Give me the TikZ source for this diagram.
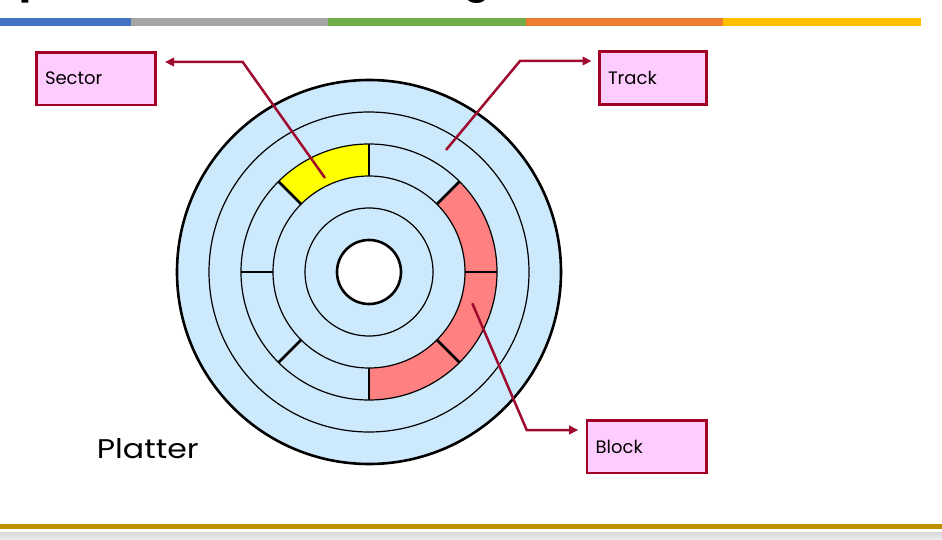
\documentclass[tikz,border=0pt]{standalone}
\usepackage{fontspec}
\setmainfont{Poppins}
\usetikzlibrary{arrows.meta,calc}
\definecolor{disk}{RGB}{205,233,252}
\definecolor{sectyel}{RGB}{255,255,0}
\definecolor{blockred}{RGB}{255,128,128}
\definecolor{boxfill}{RGB}{255,204,255}
\definecolor{boxline}{RGB}{163,0,38}
\definecolor{arrowred}{RGB}{158,11,47}
\definecolor{barblue}{RGB}{68,114,196}
\definecolor{bargray}{RGB}{165,165,165}
\definecolor{bargreen}{RGB}{112,173,71}
\definecolor{barorange}{RGB}{237,125,49}
\definecolor{baryellow}{RGB}{255,192,0}
\definecolor{gold}{RGB}{191,143,0}
\begin{document}
\begin{tikzpicture}[x=1pt,y=1pt,
  lbox/.style={draw=boxline, line width=2.6pt, fill=boxfill, rectangle,
    minimum height=52.9pt, inner xsep=8.7pt, inner ysep=0pt, align=left,
    font=\fontsize{18}{20}\selectfont},
  arr/.style={draw=arrowred, line width=2.5pt, -{Triangle[length=9pt,width=8.5pt]}},
  ring/.style={line width=1.2pt},
  spoke/.style={line width=2.6pt},
]
\useasboundingbox (0,0) rectangle (942,-540);
% top colour bar
\fill[barblue]   (0,-18) rectangle (131,-25.7);
\fill[bargray]   (131,-18) rectangle (328,-25.7);
\fill[bargreen]  (328,-18) rectangle (525.5,-25.7);
\fill[barorange] (525.5,-18) rectangle (722.5,-25.7);
\fill[baryellow] (722.5,-18) rectangle (920.7,-25.7);
% clipped title descenders
\node[font=\bfseries\fontsize{40}{40}\selectfont, anchor=base west, inner sep=0pt] (tp) at (19,7) {p};
\node[font=\bfseries\fontsize{40}{40}\selectfont, anchor=base west, inner sep=0pt] (tg) at (463,7) {g};
% bottom lines
\fill[gold] (0,-524) rectangle (942,-529);
\shade[top color=black!15, bottom color=black!7] (0,-532) rectangle (942,-540);
% platter
\begin{scope}[shift={(369,-272)}]
  \fill[disk] (0,0) circle[radius=192];
  \fill[sectyel] (90:128) arc[start angle=90,end angle=135,radius=128]
     -- (135:96) arc[start angle=135,end angle=90,radius=96] -- cycle;
  \fill[blockred] (45:128) arc[start angle=45,end angle=-90,radius=128]
     -- (-90:96) arc[start angle=-90,end angle=45,radius=96] -- cycle;
  \draw[ring] (0,0) circle[radius=160];
  \draw[ring] (0,0) circle[radius=128];
  \draw[ring] (0,0) circle[radius=96];
  \draw[ring] (0,0) circle[radius=64];
  \foreach \a in {0,45,90,135,180,225,270,315}
    \draw[spoke] (\a:96) -- (\a:128);
  \draw[line width=2.6pt] (0,0) circle[radius=192];
  \draw[line width=2.6pt, fill=white] (0,0) circle[radius=32];
\end{scope}
% labels
\node[lbox, text width=102pt] (sector) at (96,-78.7) {Sector};
\node[lbox, text width=89.6pt] (track) at (652.8,-77.9) {Track};
\node[lbox, text width=102pt] (block) at (646.7,-446.7) {Block};
\node[anchor=base west, inner sep=0pt, font=\fontsize{27}{30}\selectfont] (platter) at (96.7,-458) {\scalebox{1.17}[1]{Platter}};
% connectors
\coordinate (secP) at (325,-178);
\coordinate (secK) at (242.7,-62);
\coordinate (trkP) at (446,-150);
\coordinate (trkK) at (520,-61);
\coordinate (blkP) at (472.3,-303.3);
\coordinate (blkK) at (526.7,-430);
\draw[arr, shorten >=8pt] (secP) -- (secK) -- (secK -| sector.east);
\draw[arr, shorten >=6.5pt] (trkP) -- (trkK) -- (trkK -| track.west);
\draw[arr, shorten >=7.5pt] (blkP) -- (blkK) -- (blkK -| block.west);
\end{tikzpicture}
\end{document}
